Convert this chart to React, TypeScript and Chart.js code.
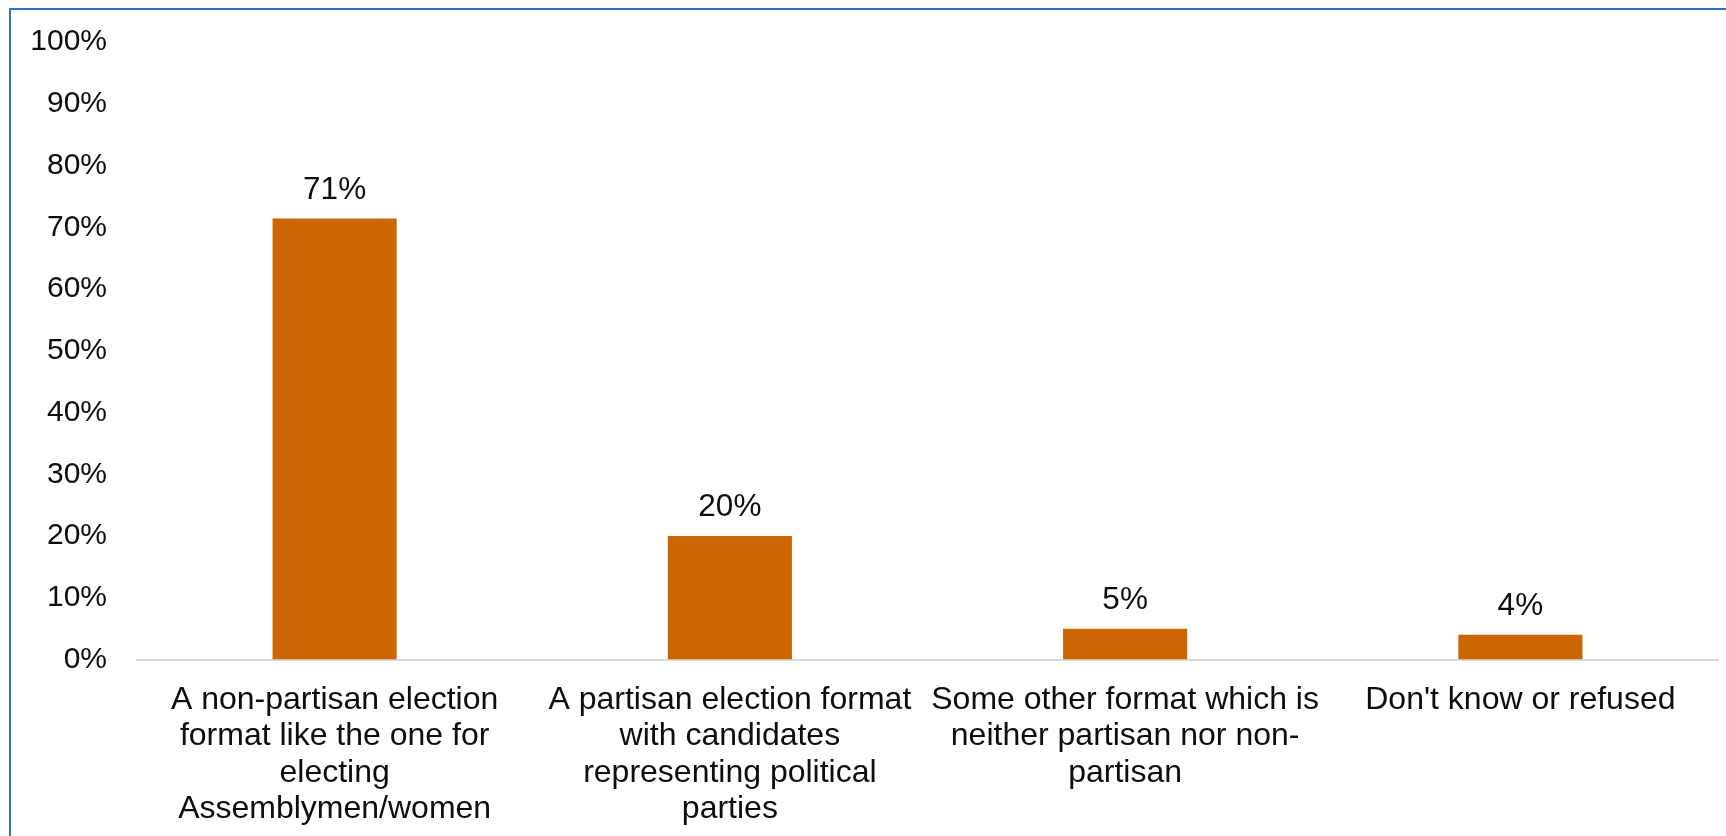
import React, { useEffect, useRef } from "react";
import { Chart, registerables } from "chart.js";

Chart.register(...registerables);

const categories: string[][] = [
  ["A non-partisan election", "format like the one for", "electing", "Assemblymen/women"],
  ["A partisan election format", "with candidates", "representing political", "parties"],
  ["Some other format which is", "neither partisan nor non-", "partisan"],
  ["Don't know or refused"],
];
const values: number[] = [71.4, 20, 5, 4];
const yTicks: number[] = [0, 10, 20, 30, 40, 50, 60, 70, 80, 90, 100];

const FONT = "'Liberation Sans', Arial, sans-serif";
const BAR_COLOR = "#CC6600";
const TEXT_COLOR = "#0d0d0d";

const labelPlugin = {
  id: "barValueLabels",
  afterDatasetsDraw(chart: any) {
    const ctx = chart.ctx;
    const meta = chart.getDatasetMeta(0);
    ctx.save();
    ctx.font = `31.5px ${FONT}`;
    ctx.fillStyle = TEXT_COLOR;
    ctx.textAlign = "center";
    ctx.textBaseline = "alphabetic";
    meta.data.forEach((el: any, i: number) => {
      ctx.fillText(`${Math.round(values[i])}%`, el.x, el.y - 20);
    });
    ctx.restore();
  },
};

export default function App() {
  const canvasRef = useRef<HTMLCanvasElement>(null);

  useEffect(() => {
    if (!canvasRef.current) return;
    const chart = new Chart(canvasRef.current, {
      type: "bar",
      data: {
        labels: categories,
        datasets: [
          {
            data: values,
            backgroundColor: BAR_COLOR,
            borderWidth: 0,
            barPercentage: 0.314,
            categoryPercentage: 1,
          },
        ],
      },
      options: {
        responsive: false,
        animation: false,
        devicePixelRatio: 1,
        layout: { padding: { left: 0, right: 8, top: 42, bottom: 0 } },
        plugins: {
          legend: { display: false },
          tooltip: { enabled: false },
        },
        scales: {
          x: {
            grid: { display: false, drawTicks: false },
            border: { display: true, color: "#d9d9d9", width: 2 },
            ticks: {
              autoSkip: false,
              maxRotation: 0,
              minRotation: 0,
              padding: 22,
              color: TEXT_COLOR,
              font: { family: FONT, size: 32, lineHeight: 1.14 },
            },
            afterFit: (scale: any) => {
              scale.height = 176.5;
            },
          },
          y: {
            min: 0,
            max: 100,
            grid: { display: false, drawTicks: false },
            border: { display: false },
            afterBuildTicks: (scale: any) => {
              scale.ticks = yTicks.map((v) => ({ value: v }));
            },
            ticks: {
              padding: 30,
              color: TEXT_COLOR,
              font: { family: FONT, size: 30 },
              callback: (v: any) => `${v}%`,
            },
            afterFit: (scale: any) => {
              scale.width = 137;
              scale.paddingTop = 0;
              scale.paddingBottom = 0;
            },
          },
        },
      },
      plugins: [labelPlugin],
    });
    return () => chart.destroy();
  }, []);

  return (
    <div
      style={{
        position: "fixed",
        left: 0,
        top: 0,
        width: 1726,
        height: 836,
        overflow: "hidden",
        background: "#ffffff",
      }}
    >
      <canvas
        ref={canvasRef}
        width={1726}
        height={836}
        style={{ position: "absolute", left: 0, top: 0, width: 1726, height: 836 }}
      />
      <div
        style={{
          position: "absolute",
          left: 9,
          top: 7.5,
          width: 1800,
          height: 900,
          borderLeft: "2px solid #2E75B6",
          borderTop: "2px solid #2E75B6",
          pointerEvents: "none",
        }}
      />
    </div>
  );
}
